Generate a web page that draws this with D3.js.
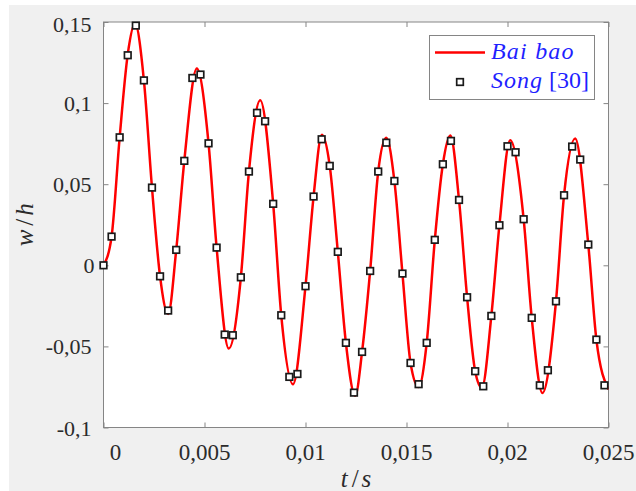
<!DOCTYPE html>
<html>
<head>
<meta charset="utf-8">
<script src="https://cdn.jsdelivr.net/npm/d3@7"></script>
<style>
  @font-face { font-family: "ChartSerif"; font-style: normal; src: local("Liberation Serif"), local("LiberationSerif"), local("LiberationSerif-Regular"); }
  @font-face { font-family: "ChartSerif"; font-style: italic; src: local("Liberation Serif Italic"), local("LiberationSerif-Italic"); }
</style>
</head>
<body style="margin:0">
<script>
// Axis ticks and their labels (decimal comma)
const xTicks = [0, 0.005, 0.01, 0.015, 0.02, 0.025];
const xTickLabels = ["0", "0,005", "0,01", "0,015", "0,02", "0,025"];
const yTicks = [-0.1, -0.05, 0, 0.05, 0.1, 0.15];
const yTickLabels = ["-0,1", "-0,05", "0", "0,05", "0,1", "0,15"];

// "Bai bao" curve: time (s) and dimensionless deflection w/h
const baiT = [0, 0.0004, 0.0008, 0.0012, 0.00156, 0.0020, 0.0024, 0.0028, 0.0032, 0.0036,
  0.0040, 0.00462, 0.0052, 0.0056, 0.0062, 0.0068, 0.0072, 0.00776, 0.0084, 0.0088,
  0.00938, 0.0100, 0.0104, 0.01081, 0.0112, 0.0116, 0.0120, 0.01246, 0.0128, 0.0132,
  0.0136, 0.0140, 0.0144, 0.0148, 0.0152, 0.0156, 0.0160, 0.0164, 0.0168, 0.01717,
  0.0176, 0.0180, 0.0184, 0.01873, 0.0192, 0.0196, 0.02013, 0.0208, 0.0212, 0.02173,
  0.0224, 0.0228, 0.02335, 0.0240, 0.0244, 0.0250];
const baiW = [0, 0.0177, 0.0789, 0.1300, 0.1490, 0.1140, 0.0479, -0.0068, -0.0300, 0.0095,
  0.0644, 0.1213, 0.0752, 0.0109, -0.0513, -0.0074, 0.0578, 0.1017, 0.0379, -0.0308,
  -0.0733, -0.0129, 0.0424, 0.0805, 0.0613, 0.0083, -0.0478, -0.0805, -0.0534, -0.0035,
  0.0578, 0.0786, 0.0520, -0.0051, -0.0602, -0.0750, -0.0478, 0.0154, 0.0623, 0.0801,
  0.0403, -0.0197, -0.0653, -0.0755, -0.0312, 0.0247, 0.0771, 0.0284, -0.0324, -0.0787,
  -0.0222, 0.0432, 0.0782, 0.0128, -0.0458, -0.0765];

// "Song [30]" reference points
const songT = [0, 0.0004, 0.0008, 0.0012, 0.0016, 0.0020, 0.0024, 0.0028, 0.0032, 0.0036,
  0.0040, 0.0044, 0.0048, 0.0052, 0.0056, 0.0060, 0.0064, 0.0068, 0.0072, 0.0076,
  0.0080, 0.0084, 0.0088, 0.0092, 0.0096, 0.0100, 0.0104, 0.0108, 0.0112, 0.0116,
  0.0120, 0.0124, 0.0128, 0.0132, 0.0136, 0.0140, 0.0144, 0.0148, 0.0152, 0.0156,
  0.0160, 0.0164, 0.0168, 0.0172, 0.0176, 0.0180, 0.0184, 0.0188, 0.0192, 0.0196,
  0.0200, 0.0204, 0.0208, 0.0212, 0.0216, 0.0220, 0.0224, 0.0228, 0.0232, 0.0236,
  0.0240, 0.0244, 0.0248];
const songW = [0, 0.0177, 0.0789, 0.1295, 0.1478, 0.1140, 0.0479, -0.0068, -0.0279, 0.0095,
  0.0644, 0.1155, 0.1176, 0.0752, 0.0109, -0.0427, -0.0431, -0.0074, 0.0578, 0.0940,
  0.0888, 0.0379, -0.0308, -0.0688, -0.0670, -0.0129, 0.0424, 0.0777, 0.0613, 0.0083,
  -0.0478, -0.0785, -0.0534, -0.0035, 0.0578, 0.0756, 0.0520, -0.0051, -0.0602, -0.0733,
  -0.0478, 0.0157, 0.0623, 0.0767, 0.0403, -0.0197, -0.0653, -0.0746, -0.0312, 0.0247,
  0.0734, 0.0697, 0.0284, -0.0324, -0.0740, -0.0647, -0.0222, 0.0432, 0.0732, 0.0652,
  0.0128, -0.0458, -0.0740];

const W = 636, H = 491;
const plot = { left: 103.5, right: 608.5, top: 22, bottom: 427.5 };
const axisColor = "#858585";
const textColor = "#2b2b2b";
const fontDecl = `font-family: "Liberation Serif", ChartSerif, "DejaVu Serif", serif !important;`;

const svg = d3.select("body").append("svg")
  .attr("width", W).attr("height", H)
  .attr("style", "display:block; " + fontDecl);

// figure background
svg.append("rect").attr("width", W).attr("height", H).attr("fill", "#ffffff");
svg.append("rect").attr("x", 9).attr("y", 5).attr("width", W - 9).attr("height", H - 5).attr("fill", "#f0f0f0");

const x = d3.scaleLinear().domain([0, 0.025]).range([plot.left, plot.right]);
const y = d3.scaleLinear().domain([-0.1, 0.15]).range([plot.bottom, plot.top]);

// plotting area
svg.append("rect")
  .attr("x", plot.left).attr("y", plot.top)
  .attr("width", plot.right - plot.left).attr("height", plot.bottom - plot.top)
  .attr("fill", "#ffffff");

svg.append("clipPath").attr("id", "plot-clip")
  .append("rect")
  .attr("x", plot.left).attr("y", plot.top - 2)
  .attr("width", plot.right - plot.left).attr("height", plot.bottom - plot.top + 4);

// inward ticks on all four sides
const tickLen = 5;
function styleAxis(g) {
  g.select(".domain").remove();
  g.selectAll(".tick line").attr("stroke", axisColor).attr("stroke-width", 1);
}
svg.append("g").attr("transform", `translate(0,${plot.bottom})`)
  .call(d3.axisBottom(x).tickValues(xTicks).tickSize(-tickLen).tickFormat(""))
  .call(styleAxis);
svg.append("g").attr("transform", `translate(0,${plot.top})`)
  .call(d3.axisTop(x).tickValues(xTicks).tickSize(-tickLen).tickFormat(""))
  .call(styleAxis);
svg.append("g").attr("transform", `translate(${plot.left},0)`)
  .call(d3.axisLeft(y).tickValues(yTicks).tickSize(-tickLen).tickFormat(""))
  .call(styleAxis);
svg.append("g").attr("transform", `translate(${plot.right},0)`)
  .call(d3.axisRight(y).tickValues(yTicks).tickSize(-tickLen).tickFormat(""))
  .call(styleAxis);

// frame
svg.append("rect")
  .attr("x", plot.left).attr("y", plot.top)
  .attr("width", plot.right - plot.left).attr("height", plot.bottom - plot.top)
  .attr("fill", "none").attr("stroke", axisColor).attr("stroke-width", 1);

// text helper: serif face set inline so nothing else overrides it
function label(sel, size, italic) {
  return sel.attr("style", `${fontDecl} font-size: ${size}px;` + (italic ? " font-style: italic;" : ""));
}

// tick labels
label(svg.append("g").selectAll("text").data(xTicks).join("text"), 23)
  .attr("x", (d) => x(d) + (d === 0 ? 12 : 0))
  .attr("y", plot.bottom + 32)
  .attr("text-anchor", "middle")
  .attr("fill", textColor)
  .text((d, i) => xTickLabels[i]);

label(svg.append("g").selectAll("text").data(yTicks).join("text"), 22)
  .attr("x", (d) => plot.left - 12 + (d === 0 ? 3 : 0))
  .attr("y", (d) => y(d) + (d === 0.15 ? 10 : 8))
  .attr("text-anchor", "end")
  .attr("fill", textColor)
  .text((d, i) => yTickLabels[i]);

// axis titles
const xTitle = label(svg.append("text"), 25)
  .attr("x", (plot.left + plot.right) / 2).attr("y", 487)
  .attr("text-anchor", "middle")
  .attr("fill", textColor);
label(xTitle.append("tspan"), 25, true).text("t");
label(xTitle.append("tspan"), 25).attr("dx", 4).text("/");
label(xTitle.append("tspan"), 25, true).attr("dx", 3).text("s");

const yTitle = label(svg.append("text"), 25)
  .attr("transform", `translate(33,${(plot.top + plot.bottom) / 2}) rotate(-90)`)
  .attr("text-anchor", "middle")
  .attr("fill", textColor);
label(yTitle.append("tspan"), 25, true).text("w");
label(yTitle.append("tspan"), 25).attr("dx", 4).text("/");
label(yTitle.append("tspan"), 25, true).attr("dx", 3).text("h");

// series
const baiData = baiT.map((t, i) => [t, baiW[i]]);
const songData = songT.map((t, i) => [t, songW[i]]);

svg.append("path")
  .datum(baiData)
  .attr("clip-path", "url(#plot-clip)")
  .attr("fill", "none")
  .attr("stroke", "#ff0000")
  .attr("stroke-width", 2.5)
  .attr("stroke-linejoin", "round")
  .attr("d", d3.line().x(d => x(d[0])).y(d => y(d[1])).curve(d3.curveMonotoneX));

const mk = 6.6;
svg.append("g").selectAll("rect").data(songData).join("rect")
  .attr("x", d => x(d[0]) - mk / 2)
  .attr("y", d => y(d[1]) - mk / 2)
  .attr("width", mk).attr("height", mk)
  .attr("fill", "#ffffff")
  .attr("stroke", "#1a1a1a")
  .attr("stroke-width", 1.7);

// legend
const lg = svg.append("g");
lg.append("rect")
  .attr("x", 429.5).attr("y", 35.5).attr("width", 165).attr("height", 64)
  .attr("fill", "#ffffff").attr("stroke", axisColor).attr("stroke-width", 1);
lg.append("line")
  .attr("x1", 435).attr("x2", 485).attr("y1", 52.5).attr("y2", 52.5)
  .attr("stroke", "#ff0000").attr("stroke-width", 2.5);
lg.append("rect")
  .attr("x", 460 - mk / 2).attr("y", 82 - mk / 2).attr("width", mk).attr("height", mk)
  .attr("fill", "#ffffff").attr("stroke", "#1a1a1a").attr("stroke-width", 1.7);

const legendBlue = "#1f1fff";
label(lg.append("text"), 24, true)
  .attr("x", 491).attr("y", 59)
  .attr("letter-spacing", 1.2)
  .attr("fill", legendBlue)
  .text("Bai bao");
const l2 = label(lg.append("text"), 24)
  .attr("x", 491).attr("y", 88)
  .attr("fill", legendBlue);
label(l2.append("tspan"), 24, true).attr("letter-spacing", 1).text("Song");
label(l2.append("tspan"), 24).attr("dx", 6).text("[30]");
</script>
</body>
</html>
